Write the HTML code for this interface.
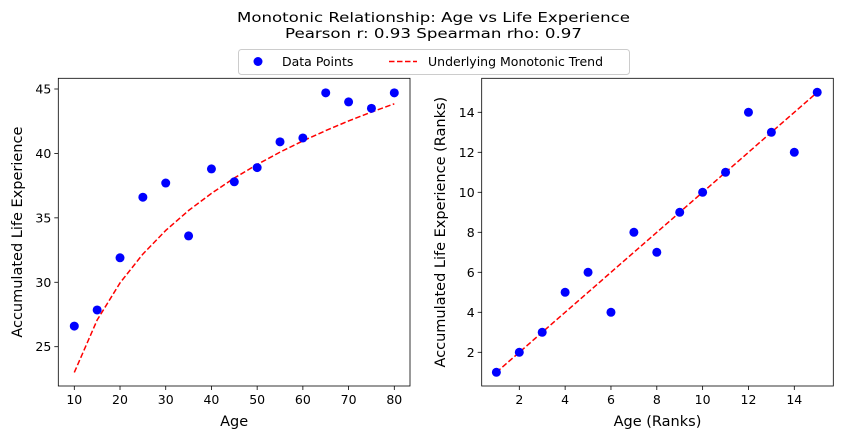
<!DOCTYPE html>
<html><head><meta charset="utf-8"><style>
body{margin:0;background:#fff;}
svg text{font-family:"DejaVu Sans","Liberation Sans",sans-serif;fill:#000;}
</style></head><body>
<svg id="fig" width="843" height="440" xmlns="http://www.w3.org/2000/svg">
<rect width="843" height="440" fill="#fff"/>
<text x="433.5" y="22" font-size="13" text-anchor="middle" textLength="393" lengthAdjust="spacingAndGlyphs">Monotonic Relationship: Age vs Life Experience</text>
<text x="433.5" y="38" font-size="13" text-anchor="middle" textLength="297" lengthAdjust="spacingAndGlyphs">Pearson r: 0.93 Spearman rho: 0.97</text>
<g>
<rect x="238.5" y="49.5" width="391" height="25" rx="3" fill="#fff" stroke="#ccc"/>
<circle cx="258" cy="61.5" r="4.5" fill="#0000ff"/>
<text x="282" y="66" font-size="12.5">Data Points</text>
<line x1="389" y1="61.5" x2="417" y2="61.5" stroke="#ff0000" stroke-width="1.5" stroke-dasharray="5.5,2.5"/>
<text x="428" y="66" font-size="12.5">Underlying Monotonic Trend</text>
</g>
<g id="left"></g>
<g id="right"></g>
</svg>
<script>
const ages = [10,15,20,25,30,35,40,45,50,55,60,65,70,75,80];
const experience = [26.6,27.85,31.9,36.6,37.7,33.6,38.8,37.8,38.9,40.9,41.2,44.7,44.0,43.5,44.7];
const trend = [23.0,27.07,29.95,32.19,34.02,35.57,36.9,38.09,39.14,40.1,40.97,41.77,42.52,43.21,43.85];
const ageRanks = [1,2,3,4,5,6,7,8,9,10,11,12,13,14,15];
const expRanks = [1,2,3,5,6,4,8,7,9,10,11,14,13,12,15];
const leftXTicks = [10,20,30,40,50,60,70,80];
const leftYTicks = [25,30,35,40,45];
const rightXTicks = [2,4,6,8,10,12,14];
const rightYTicks = [2,4,6,8,10,12,14];

const NS='http://www.w3.org/2000/svg';
function mk(parent,tag,attrs,text){const e=document.createElementNS(NS,tag);for(const k in attrs)e.setAttribute(k,attrs[k]);if(text!==undefined)e.textContent=text;parent.appendChild(e);return e;}

function drawPanel(g,box,xd,yd,xs,ys,trendYs,xt,yt,xlabel,ylabel,prefix){
  const sx=v=>box.px0+(v-xd[0])/(xd[1]-xd[0])*(box.px1-box.px0);
  const sy=v=>box.py0+(v-yd[0])/(yd[1]-yd[0])*(box.py1-box.py0);
  xt.forEach(t=>{
    const x=sx(t);
    const l=mk(g,'line',{x1:x,x2:x,y1:box.b,y2:box.b+4,stroke:'#000','stroke-width':0.8});
    
    
    const tx=mk(g,'text',{x:x,y:box.b+18,'font-size':12.5,'text-anchor':'middle'},String(t));
    
    
  });
  yt.forEach(t=>{
    const y=sy(t);
    const l=mk(g,'line',{x1:box.l-4,x2:box.l,y1:y,y2:y,stroke:'#000','stroke-width':0.8});
    
    
    const tx=mk(g,'text',{x:box.l-7,y:y+4.5,'font-size':12.5,'text-anchor':'end'},String(t));
    
    
  });
  const pts=xs.map((v,i)=>sx(v).toFixed(2)+','+sy(trendYs[i]).toFixed(2)).join(' ');
  const pl=mk(g,'polyline',{points:pts,fill:'none',stroke:'#ff0000','stroke-width':1.5,'stroke-dasharray':'5.5,2.5'});
  
  
  xs.forEach((v,i)=>{
    const c=mk(g,'circle',{cx:sx(v),cy:sy(ys[i]),r:4.5,fill:'#0000ff'});
    
    
  });
  const fr=mk(g,'rect',{x:box.l,y:box.t,width:box.r-box.l,height:box.b-box.t,fill:'none',stroke:'#000','stroke-width':0.8});
  
  
  const xl=mk(g,'text',{x:(box.l+box.r)/2,y:box.b+40,'font-size':14.5,'text-anchor':'middle'},xlabel);
  
  
  const cy=(box.t+box.b)/2;
  const yl=mk(g,'text',{x:box.ylx,y:cy,'font-size':14.5,'text-anchor':'middle',transform:'rotate(-90 '+box.ylx+' '+cy+')'},ylabel);
  
  
}
drawPanel(document.getElementById('left'),
  {l:58.3,r:410,t:78.3,b:386,px0:74.3,px1:394.3,py0:346.7,py1:89,ylx:22},
  [10,80],[25,45],ages,experience,trend,leftXTicks,leftYTicks,'Age','Accumulated Life Experience','left');
drawPanel(document.getElementById('right'),
  {l:481.7,r:833.3,t:78.3,b:386,px0:519.3,px1:794.3,py0:352.3,py1:112.3,ylx:445},
  [2,14],[2,14],ageRanks,expRanks,ageRanks,rightXTicks,rightYTicks,'Age (Ranks)','Accumulated Life Experience (Ranks)','right');
</script>
</body></html>
